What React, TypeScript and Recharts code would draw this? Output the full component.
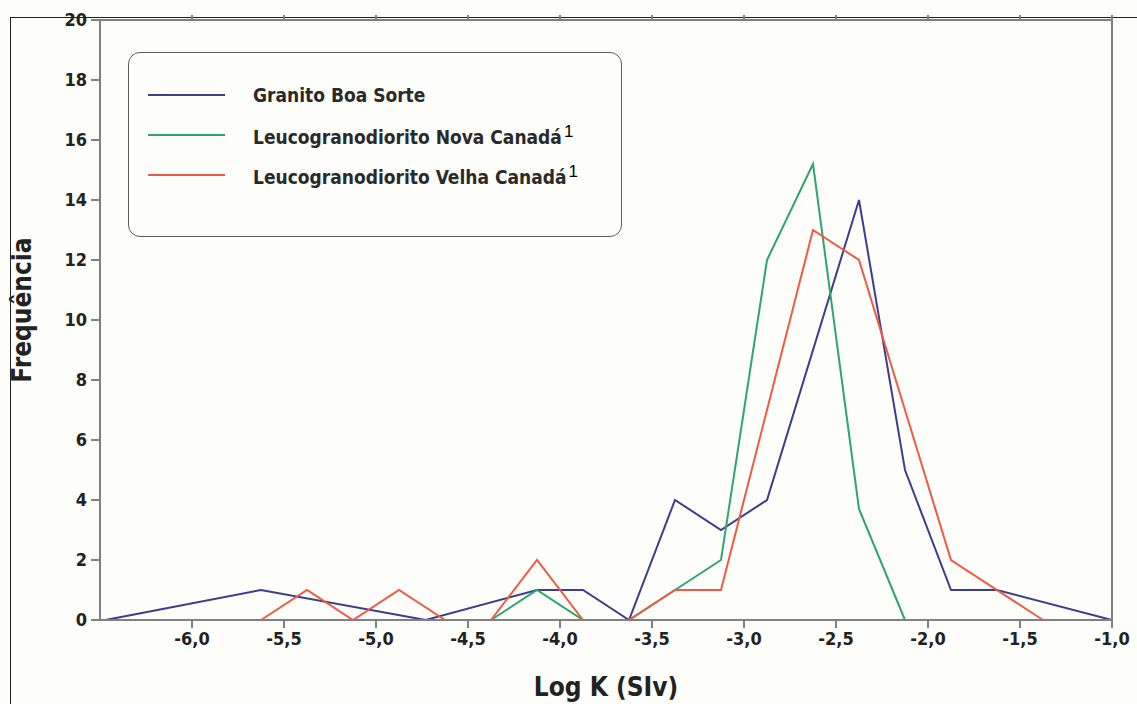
import React from 'react';
import { LineChart, Line, XAxis, YAxis, Legend } from 'recharts';

const xTicks = [-6.0, -5.5, -5.0, -4.5, -4.0, -3.5, -3.0, -2.5, -2.0, -1.5, -1.0];
const yTicks = [0, 2, 4, 6, 8, 10, 12, 14, 16, 18, 20];

const boaSorteX = [-6.47, -5.625, -4.73, -4.125, -3.875, -3.625, -3.375, -3.125, -2.875, -2.375, -2.125, -1.875, -1.625, -1.0];
const boaSorteY = [0, 1, 0, 1, 1, 0, 4, 3, 4, 14, 5, 1, 1, 0];

const novaX = [-4.375, -4.125, -3.875, -3.625, -3.375, -3.125, -2.875, -2.625, -2.375, -2.125];
const novaY = [0, 1, 0, 0, 1, 2, 12, 15.2, 3.7, 0];

const velhaX = [-5.625, -5.375, -5.125, -4.875, -4.625, -4.375, -4.125, -3.875, -3.625, -3.375, -3.125, -2.875, -2.625, -2.375, -2.125, -1.875, -1.375];
const velhaY = [0, 1, 0, 1, 0, 0, 2, 0, 0, 1, 1, 7, 13, 12, 7, 2, 0];

const seriesNames = ['Granito Boa Sorte', 'Leucogranodiorito Nova Canadá', 'Leucogranodiorito Velha Canadá'];
const seriesSup = ['', '1', '1'];
const seriesColors = ['#3d3d8c', '#2fa56e', '#ee5a48'];

const toPoints = (xs: number[], ys: number[]) => xs.map((x, i) => ({ x, y: ys[i] }));

const FONT = '"DejaVu Sans Condensed", "DejaVu Sans", sans-serif';
const AXIS = '#808080';
const BG = '#fdfdf9';

const fmt = (v: number) => v.toFixed(1).replace('.', ',');

const renderLegend = (props: any) => {
  const payload = props.payload || [];
  return (
    <div
      style={{
        width: 494,
        height: 185,
        boxSizing: 'border-box',
        border: '1.5px solid #5a5a5a',
        borderRadius: 12,
        position: 'relative',
        fontFamily: FONT,
      }}
    >
      {payload.map((p: any, i: number) => (
        <div
          key={i}
          style={{ position: 'absolute', left: 0, top: 30 + i * 40, height: 24, display: 'flex', alignItems: 'center' }}
        >
          <div style={{ marginLeft: 19, width: 77, height: 2, background: p.color }} />
          <span style={{ marginLeft: 28, fontSize: 19, fontWeight: 'bold', color: '#2a2a2a', whiteSpace: 'nowrap' }}>
            {p.value}
            {seriesSup[i] ? (
              <sup style={{ fontFamily: '"Liberation Sans", Arial, sans-serif', fontWeight: 'normal', fontSize: 17, color: '#000', marginLeft: 2 }}>
                {seriesSup[i]}
              </sup>
            ) : null}
          </span>
        </div>
      ))}
    </div>
  );
};

const renderYLabel = (props: any) => {
  const vb = props.viewBox || { x: 0, y: 0, width: 100, height: 600 };
  const cx = vb.x + 22;
  const cy = vb.y + vb.height / 2 - 10;
  return (
    <text
      x={cx}
      y={cy}
      transform={`rotate(-90 ${cx} ${cy})`}
      textAnchor="middle"
      dominantBaseline="central"
      fill="#222"
      fontSize={26}
      fontWeight="bold"
      fontFamily={FONT}
    >
      Frequência
    </text>
  );
};

const emptyTick = () => <g />;

export default function App() {
  return (
    <div style={{ position: 'absolute', left: 0, top: 0, width: 1137, height: 704, background: BG, overflow: 'hidden' }}>
      <div style={{ position: 'absolute', left: 10, top: 17, width: 1127, height: 687, borderTop: '1.5px solid #222', borderLeft: '1.5px solid #222' }} />
      <LineChart width={1137} height={704} margin={{ top: 19, right: 25, left: 0, bottom: 0 }}>
        <XAxis
          xAxisId="bottom"
          type="number"
          dataKey="x"
          domain={[-6.5, -1.0]}
          ticks={xTicks}
          tickFormatter={fmt}
          allowDataOverflow
          height={84}
          tickSize={8}
          tickMargin={4}
          stroke={AXIS}
          strokeWidth={2}
          tick={{ fill: '#222', fontSize: 18, fontWeight: 'bold', fontFamily: FONT }}
          label={{ value: 'Log K (SIv)', position: 'insideBottom', offset: 8, fill: '#222', fontSize: 26, fontWeight: 'bold', fontFamily: FONT }}
        />
        <XAxis
          xAxisId="top"
          orientation="top"
          type="number"
          dataKey="x"
          domain={[-6.5, -1.0]}
          ticks={xTicks}
          allowDataOverflow
          height={1}
          tickSize={5}
          stroke={AXIS}
          strokeWidth={2}
          tick={emptyTick}
        />
        <YAxis
          yAxisId="left"
          type="number"
          domain={[0, 20]}
          ticks={yTicks}
          width={100}
          tickSize={9}
          tickMargin={4}
          stroke={AXIS}
          strokeWidth={2}
          tick={{ fill: '#222', fontSize: 18, fontWeight: 'bold', fontFamily: FONT }}
          label={{ content: renderYLabel }}
        />
        <YAxis
          yAxisId="right"
          orientation="right"
          type="number"
          domain={[0, 20]}
          ticks={yTicks}
          mirror
          width={1}
          tickSize={8}
          stroke={AXIS}
          strokeWidth={2}
          tick={emptyTick}
        />
        <Legend
          layout="horizontal"
          verticalAlign="middle"
          align="center"
          content={renderLegend}
          wrapperStyle={{ position: 'absolute', left: 128, top: 52, width: 494, height: 185 }}
        />
        <Line
          xAxisId="bottom"
          yAxisId="left"
          data={toPoints(boaSorteX, boaSorteY)}
          dataKey="y"
          name={seriesNames[0]}
          stroke={seriesColors[0]}
          strokeWidth={2}
          dot={false}
          isAnimationActive={false}
        />
        <Line
          xAxisId="bottom"
          yAxisId="left"
          data={toPoints(novaX, novaY)}
          dataKey="y"
          name={seriesNames[1]}
          stroke={seriesColors[1]}
          strokeWidth={2}
          dot={false}
          isAnimationActive={false}
        />
        <Line
          xAxisId="bottom"
          yAxisId="left"
          data={toPoints(velhaX, velhaY)}
          dataKey="y"
          name={seriesNames[2]}
          stroke={seriesColors[2]}
          strokeWidth={2}
          dot={false}
          isAnimationActive={false}
        />
      </LineChart>
    </div>
  );
}
